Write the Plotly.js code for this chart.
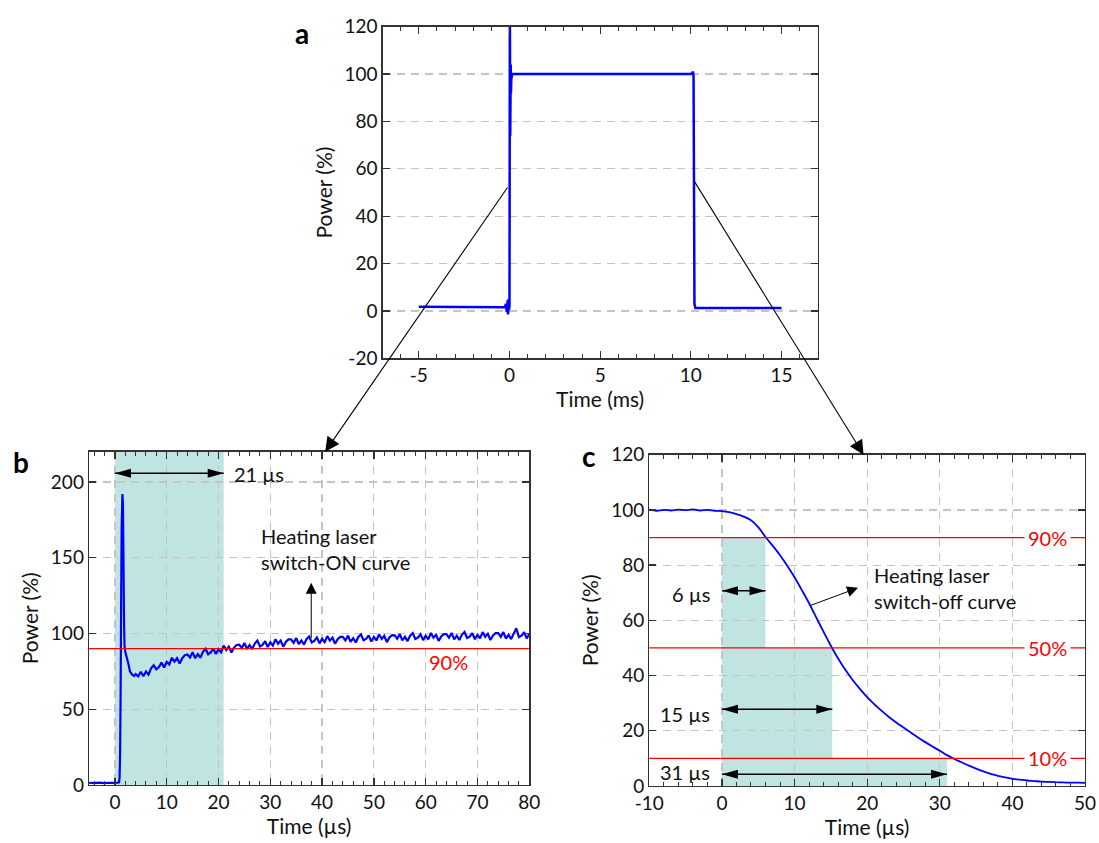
<!DOCTYPE html>
<html>
<head>
<meta charset="utf-8">
<script src="https://cdn.plot.ly/plotly-3.0.1.min.js"></script>
<style>html,body{margin:0;padding:0;background:#fff;}#chart{width:1099px;height:843px;}</style>
</head>
<body>
<div id="chart"></div>
<script>
// ---------- Panel a : full pulse (ms) ----------
const aTime  = [-5, -0.4, -0.25, -0.2, -0.15, -0.1, -0.08, -0.05, -0.03, 0, 0.02, 0.04, 0.05, 0.06, 0.07, 0.08, 0.1, 0.15, 0.25, 5, 10.0, 10.08, 10.12, 10.15, 10.17, 10.2, 10.25, 15];
const aPower = [1.8, 1.8, 1.5, 3.0, -0.5, 4.5, -1.5, 5.0, 0.5, 2, 130, 74, 118, 80, 104, 92, 98, 100, 100, 100, 100, 100.5, 101, 99, 55, 3, 1.2, 1.2];
const aXTicks = [-5, 0, 5, 10, 15];
const aXTickText = ['-5', '0', '5', '10', '15'];
const aYTicks = [-20, 0, 20, 40, 60, 80, 100, 120];
const aYTickText = ['-20', '0', '20', '40', '60', '80', '100', '120'];

// ---------- Panel b : switch-ON (µs) ----------
const bTime = [-5, -4, -3, -2, -1, 0, 0.5, 0.8, 0.9, 1.0, 1.1, 1.2, 1.3, 1.45, 1.55, 1.65, 1.75, 1.85, 2.0, 2.3, 2.6, 2.9, 3.3, 3.7,
  4, 4.5, 5, 5.5, 6, 6.5, 7, 7.5, 8, 8.5, 9, 9.5, 10, 10.5, 11, 11.5, 12, 12.5, 13, 13.5,
  14, 14.5, 15, 15.5, 16, 16.5, 17, 17.5, 18, 18.5, 19, 19.5, 20, 20.5, 21, 21.5, 22, 22.5, 23, 23.5,
  24, 24.5, 25, 25.5, 26, 26.5, 27, 27.5, 28, 28.5, 29, 29.5, 30, 30.5, 31, 31.5, 32, 32.5, 33, 33.5,
  34, 34.5, 35, 35.5, 36, 36.5, 37, 37.5, 38, 38.5, 39, 39.5, 40, 40.5, 41, 41.5, 42, 42.5, 43, 43.5,
  44, 44.5, 45, 45.5, 46, 46.5, 47, 47.5, 48, 48.5, 49, 49.5, 50, 50.5, 51, 51.5, 52, 52.5, 53, 53.5,
  54, 54.5, 55, 55.5, 56, 56.5, 57, 57.5, 58, 58.5, 59, 59.5, 60, 60.5, 61, 61.5, 62, 62.5, 63, 63.5,
  64, 64.5, 65, 65.5, 66, 66.5, 67, 67.5, 68, 68.5, 69, 69.5, 70, 70.5, 71, 71.5, 72, 72.5, 73, 73.5,
  74, 74.5, 75, 75.5, 76, 76.5, 77, 77.5, 78, 78.5, 79, 79.5, 80];
const bPower = [1.5, 1.2, 1.6, 1.3, 1.5, 1.4, 1.5, 1.8, 5, 20, 60, 120, 170, 192, 185, 150, 110, 92, 88, 84, 80, 75, 73, 72,
  73.2, 71.7, 74.8, 71.8, 74.9, 72.8, 77.1, 79.0, 76.3, 77.9, 80.9, 77.6, 81.3, 79.5, 84.0, 81.4, 83.8, 80.2, 83.7, 85.7,
  86.1, 84.1, 87.6, 83.7, 86.4, 84.0, 87.9, 89.9, 86.3, 87.5, 90.1, 86.4, 89.6, 87.6, 92.0, 89.1, 91.3, 87.4, 90.7, 92.4,
  92.6, 90.4, 93.8, 89.8, 92.4, 89.7, 93.4, 95.3, 91.5, 92.5, 94.9, 91.1, 94.2, 92.0, 96.2, 93.2, 95.3, 91.3, 94.4, 96.1,
  96.1, 93.8, 97.0, 93.0, 95.4, 92.7, 96.3, 98.0, 94.1, 95.1, 97.4, 93.5, 96.5, 94.3, 98.3, 95.3, 97.3, 93.2, 96.3, 97.8,
  97.8, 95.4, 98.6, 94.5, 96.9, 94.1, 97.7, 99.4, 95.5, 96.4, 98.7, 94.7, 97.7, 95.4, 99.5, 96.4, 98.4, 94.3, 97.4, 98.9,
  98.8, 96.5, 99.6, 95.4, 97.8, 95.0, 98.6, 100.3, 96.4, 97.3, 99.5, 95.6, 98.5, 96.2, 100.3, 97.2, 99.1, 95.1, 98.1, 99.6,
  99.6, 97.2, 100.3, 96.1, 98.5, 95.7, 99.3, 101.0, 97.0, 97.9, 100.2, 96.2, 99.1, 96.8, 100.9, 97.8, 99.8, 95.7, 98.7, 100.2,
  100.2, 97.8, 100.9, 96.7, 99.1, 96.3, 99.9, 103.5, 97.6, 98.5, 100.8, 96.8, 99.8];
const bThreshold = 90;
const bSwitchTime = 21;

// ---------- Panel c : switch-off (µs) ----------
const cTime = [-10, -9, -8, -7, -6, -5, -4, -3, -2, -1,
  0, 1, 2, 3, 4, 5, 6, 7, 8, 9, 10, 11, 12, 13, 14, 15, 16, 17, 18, 19, 20,
  21, 22, 23, 24, 25, 26, 27, 28, 29, 30, 31, 32, 33, 34, 35, 36, 37, 38, 39, 40,
  41, 42, 43, 44, 45, 46, 47, 48, 49, 50];
const cPower = [100.2, 99.7, 100.0, 99.8, 100.1, 99.9, 100.2, 99.8, 100.0, 99.7,
  99.6, 99.2, 98.5, 97.6, 96.3, 93.8, 90.2, 87.0, 83.6, 79.8, 75.6, 71.0, 66.2, 61.0, 55.8, 50.8, 46.2, 42.1, 38.4, 35.2, 32.2,
  29.6, 27.2, 25.0, 23.0, 21.2, 19.4, 17.6, 15.9, 14.3, 12.8, 11.2, 9.8, 8.6, 7.4, 6.3, 5.3, 4.4, 3.7, 3.1, 2.6,
  2.3, 2.0, 1.8, 1.6, 1.5, 1.4, 1.3, 1.2, 1.2, 1.1];
const cThresholds = [90, 50, 10];
const cThresholdLabels = ['90%', '50%', '10%'];
const cSpans = [6, 15.2, 31];
const cSpanLabels = ['6 µs', '15 µs', '31 µs'];
const cXTicks = [-10, 0, 10, 20, 30, 40, 50];
const cXTickText = ['-10', '0', '10', '20', '30', '40', '50'];

// ---------- styling ----------
const FONT = 'Lato, "Liberation Sans", sans-serif';
const SHADE = 'rgb(192,228,226)';
const AX = '#333';

function axisBase(extra) {
  return Object.assign({
    showline: true, linecolor: AX, linewidth: 1.3, mirror: 'ticks',
    ticks: 'inside', ticklen: 7, tickwidth: 1.3, tickcolor: AX,
    showgrid: true, gridcolor: '#c4c4c4', griddash: '8px,6px', gridwidth: 1.2,
    zeroline: false, tickfont: {family: FONT, size: 19, color: '#111'},
    fixedrange: true
  }, extra);
}
function minor(dt) {
  return {ticks: 'inside', ticklen: 4, tickwidth: 1, tickcolor: AX, dtick: dt, tick0: 0, showgrid: false};
}
const titleFont = {family: FONT, size: 21, color: '#111'};

const traces = [
  {x: aTime, y: aPower, xaxis: 'x', yaxis: 'y', mode: 'lines', line: {color: '#0000ff', width: 2.5}, hoverinfo: 'skip'},
  {x: bTime, y: bPower, xaxis: 'x2', yaxis: 'y2', mode: 'lines', line: {color: '#0000ff', width: 2.2, simplify: false}, hoverinfo: 'skip'},
  {x: cTime, y: cPower, xaxis: 'x3', yaxis: 'y3', mode: 'lines', line: {color: '#0000ff', width: 1.8, shape: 'spline'}, hoverinfo: 'skip'}
];

const shapes = [];
const annotations = [];

// panel b shading + threshold
shapes.push({type: 'rect', xref: 'x2', yref: 'y2 domain', x0: 0, x1: bSwitchTime, y0: 0, y1: 1, fillcolor: SHADE, line: {width: 0}, layer: 'below'});
shapes.push({type: 'line', xref: 'x2 domain', yref: 'y2', x0: 0, x1: 1, y0: bThreshold, y1: bThreshold, line: {color: '#ff0000', width: 1.2}, layer: 'above'});

// panel c shading + thresholds
cThresholds.forEach((t, i) => {
  const lower = i + 1 < cThresholds.length ? cThresholds[i + 1] : 0;
  shapes.push({type: 'rect', xref: 'x3', yref: 'y3', x0: 0, x1: cSpans[i], y0: lower, y1: t, fillcolor: SHADE, line: {width: 0}, layer: 'below'});
});
cThresholds.forEach((t, i) => {
  shapes.push({type: 'line', xref: 'x3 domain', yref: 'y3', x0: 0, x1: 1, y0: t, y1: t, line: {color: '#ff0000', width: 1.2}, layer: 'above'});
  annotations.push({xref: 'x3', yref: 'y3', x: 44.8, y: t, text: cThresholdLabels[i], showarrow: false,
    font: {family: FONT, size: 20, color: '#ff0000'}, bgcolor: '#ffffff', borderpad: 3, xanchor: 'center', yanchor: 'middle'});
});

// double-headed arrow helper (line + elongated heads)
function dblArrow(xref, yref, x0, x1, y) {
  const L = 16, W = 4.5;
  shapes.push({type: 'line', xref, yref, x0: x0, x1: x1, y0: y, y1: y, line: {color: '#000', width: 1.5}, layer: 'above'});
  shapes.push({type: 'path', xref, yref, xsizemode: 'pixel', ysizemode: 'pixel', xanchor: x0, yanchor: y,
    path: `M0,0 L${L},${W} L${L},${-W} Z`, fillcolor: '#000', line: {width: 0}, layer: 'above'});
  shapes.push({type: 'path', xref, yref, xsizemode: 'pixel', ysizemode: 'pixel', xanchor: x1, yanchor: y,
    path: `M0,0 L${-L},${W} L${-L},${-W} Z`, fillcolor: '#000', line: {width: 0}, layer: 'above'});
}

dblArrow('x2', 'y2', 0, bSwitchTime, 205.7);
annotations.push({xref: 'x2', yref: 'y2', x: 22.6, y: 205, text: bSwitchTime + ' µs', showarrow: false, xanchor: 'left', yanchor: 'middle',
  font: {family: FONT, size: 20, color: '#111'}});

const cArrowY = [70.7, 27.8, 4.3];
const cLabelY = [69.5, 26, 5.2];
cSpans.forEach((s, i) => {
  dblArrow('x3', 'y3', 0, s, cArrowY[i]);
  annotations.push({xref: 'x3', yref: 'y3', x: -1.3, y: cLabelY[i], text: cSpanLabels[i], showarrow: false, xanchor: 'right', yanchor: 'middle',
    font: {family: FONT, size: 20, color: '#111'}});
});

// descriptive texts + pointers
annotations.push({xref: 'x2', yref: 'y2', x: 27.9, y: 156, text: 'Heating laser<br>switch-ON curve', showarrow: false, xanchor: 'left', yanchor: 'middle', align: 'left',
  font: {family: FONT, size: 20, color: '#111'}});
annotations.push({xref: 'x2', yref: 'y2', x: 37.9, y: 133.5, axref: 'x2', ayref: 'y2', ax: 37.9, ay: 96, text: '', showarrow: true,
  arrowhead: 2, arrowsize: 2.2, arrowwidth: 1, arrowcolor: '#000', standoff: 0});
annotations.push({xref: 'x2', yref: 'y2', x: 64.4, y: 81, text: '90%', showarrow: false, xanchor: 'center', yanchor: 'middle',
  font: {family: FONT, size: 20, color: '#ff0000'}});

annotations.push({xref: 'x3', yref: 'y3', x: 20.6, y: 71.6, text: 'Heating laser<br>switch-off curve', showarrow: false, xanchor: 'left', yanchor: 'middle', align: 'left',
  font: {family: FONT, size: 20, color: '#111'}});
annotations.push({xref: 'x3', yref: 'y3', x: 18.74, y: 71.8, axref: 'x3', ayref: 'y3', ax: 12.0, ay: 65.2, text: '', showarrow: true,
  arrowhead: 2, arrowsize: 2.2, arrowwidth: 1, arrowcolor: '#000', standoff: 0});

// zoom connector arrows from panel a to panels b and c
annotations.push({xref: 'x2', yref: 'y2', x: 40.6, y: 220, axref: 'pixel', ayref: 'pixel', ax: 183.3, ay: -265.7, text: '', showarrow: true,
  arrowhead: 2, arrowsize: 2.6, arrowwidth: 1.1, arrowcolor: '#000', standoff: 0});
annotations.push({xref: 'x3', yref: 'y3', x: 19.5, y: 120, axref: 'pixel', ayref: 'pixel', ax: -169.8, ay: -274.3, text: '', showarrow: true,
  arrowhead: 2, arrowsize: 2.6, arrowwidth: 1.1, arrowcolor: '#000', standoff: 0});

// panel letters
[['a', 302, 33], ['b', 21, 462], ['c', 589, 456]].forEach(([t, px, py]) => {
  annotations.push({xref: 'paper', yref: 'paper', x: px / 1099, y: 1 - py / 843, text: '<b>' + t + '</b>', showarrow: false,
    xanchor: 'center', yanchor: 'middle', font: {family: FONT, size: 28, color: '#000'}});
});

const layout = {
  width: 1099, height: 843, margin: {l: 0, r: 0, t: 0, b: 0},
  paper_bgcolor: '#fff', plot_bgcolor: '#fff', showlegend: false,
  font: {family: FONT, color: '#111'},
  xaxis: axisBase({domain: [0.3481, 0.7441], range: [-7, 17], anchor: 'y', tickmode: 'array', tickvals: aXTicks, ticktext: aXTickText,
    showgrid: false, minor: minor(1), title: {text: 'Time (ms)', font: titleFont, standoff: 4}}),
  yaxis: axisBase({domain: [0.5750, 0.9683], range: [-20, 120], anchor: 'x', tickmode: 'array', tickvals: aYTicks, ticktext: aYTickText,
    title: {text: 'Power (%)', font: titleFont, standoff: 6}}),
  xaxis2: axisBase({domain: [0.0810, 0.4816], range: [-5, 80], anchor: 'y2', tickmode: 'linear', tick0: 0, dtick: 10,
    minor: minor(2), title: {text: 'Time (µs)', font: titleFont, standoff: 4}}),
  yaxis2: axisBase({domain: [0.0688, 0.4642], range: [0, 220], anchor: 'x2', tickmode: 'linear', tick0: 0, dtick: 50,
    title: {text: 'Power (%)', font: titleFont, standoff: 6}}),
  xaxis3: axisBase({domain: [0.5908, 0.9873], range: [-10, 50], anchor: 'y3', tickmode: 'array', tickvals: cXTicks, ticktext: cXTickText,
    minor: minor(2), title: {text: 'Time (µs)', font: titleFont, standoff: 4}}),
  yaxis3: axisBase({domain: [0.0676, 0.4606], range: [0, 120], anchor: 'x3', tickmode: 'linear', tick0: 0, dtick: 20,
    title: {text: 'Power (%)', font: titleFont, standoff: 6}}),
  shapes: shapes,
  annotations: annotations
};

Plotly.newPlot('chart', traces, layout, {staticPlot: true, displayModeBar: false});
</script>
</body>
</html>
